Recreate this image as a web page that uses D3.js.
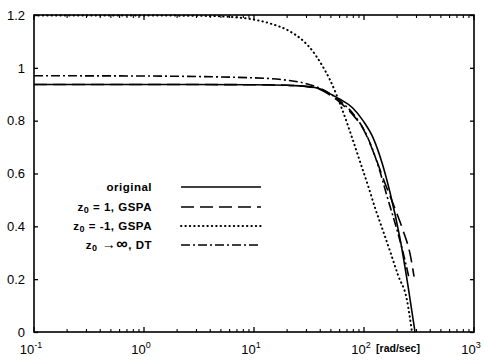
<!DOCTYPE html>
<html>
<head>
<meta charset="utf-8">
<script src="https://cdn.jsdelivr.net/npm/d3@7"></script>
<style>
  body { margin: 0; background: #fff; }
  svg { font-family: "Liberation Sans", Arial, sans-serif; }
</style>
</head>
<body>
<div id="chart"></div>
<script>
// frequency in rad/sec, magnitude
var origW = [0.1, 1, 10, 20, 30, 40, 49, 60, 79, 98, 121, 146, 172, 212, 250, 291];
var origV = [0.937, 0.937, 0.936, 0.934, 0.93, 0.92, 0.902, 0.882, 0.848, 0.8, 0.735, 0.64, 0.53, 0.356, 0.18, 0];

var gspaPW = [0.1, 1, 10, 20, 30, 40, 50, 60, 80, 98, 130, 153, 190, 224, 267, 285];
var gspaPV = [0.937, 0.937, 0.936, 0.934, 0.929, 0.918, 0.895, 0.87, 0.82, 0.77, 0.65, 0.57, 0.47, 0.39, 0.28, 0.21];

var gspaMW = [0.1, 1, 3.2, 6, 9.2, 14, 21.2, 27.9, 34.3, 41.5, 49, 63, 78, 92, 109, 126, 149, 176, 204, 246, 273];
var gspaMV = [1.198, 1.198, 1.197, 1.193, 1.185, 1.168, 1.138, 1.103, 1.062, 1.01, 0.955, 0.845, 0.735, 0.645, 0.553, 0.47, 0.383, 0.295, 0.215, 0.12, 0];

var dtW = [0.1, 1, 10, 20, 30, 40, 50, 60, 80, 100, 120, 139, 163, 200, 230, 255];
var dtV = [0.97, 0.969, 0.962, 0.953, 0.94, 0.922, 0.9, 0.876, 0.825, 0.765, 0.69, 0.61, 0.51, 0.385, 0.29, 0.21];

var yTicks = [0, 0.2, 0.4, 0.6, 0.8, 1, 1.2];
var xDecades = [-1, 0, 1, 2, 3];
var legendNames = ["original", "z0 = 1,  GSPA", "z0 = -1, GSPA", "z0 \u2192 \u221E,  DT"];

var width = 485, height = 361;
var mLeft = 34, mRight = 474, mTop = 15, mBottom = 332;

var svg = d3.select("#chart").append("svg")
    .attr("width", width)
    .attr("height", height);

var x = d3.scaleLog().domain([0.1, 1000]).range([mLeft, mRight]);
var y = d3.scaleLinear().domain([0, 1.2]).range([mBottom, mTop]);

var series = [
    {w: origW, v: origV, dash: null, cap: "butt"},
    {w: gspaPW, v: gspaPV, dash: "13,6", cap: "butt"},
    {w: gspaMW, v: gspaMV, dash: "0.4,4", cap: "round"},
    {w: dtW, v: dtV, dash: "9,3,2,3", cap: "butt"}
];

var line = d3.line()
    .x(function(d) { return x(d[0]); })
    .y(function(d) { return y(d[1]); })
    .curve(d3.curveMonotoneX);

svg.append("defs").append("clipPath").attr("id", "clip")
  .append("rect").attr("x", mLeft).attr("y", mTop - 1)
    .attr("width", mRight - mLeft).attr("height", mBottom - mTop + 1);

var plot = svg.append("g").attr("clip-path", "url(#clip)");
series.forEach(function(s) {
    plot.append("path")
        .datum(s.w.map(function(w, i) { return [w, s.v[i]]; }))
        .attr("d", line)
        .attr("fill", "none")
        .attr("stroke", "#000")
        .attr("stroke-width", s.cap === "round" ? 2 : 1.6)
        .attr("stroke-linecap", s.cap)
        .attr("stroke-dasharray", s.dash);
});

// frame
svg.append("rect")
    .attr("x", mLeft).attr("y", mTop)
    .attr("width", mRight - mLeft).attr("height", mBottom - mTop)
    .attr("fill", "none").attr("stroke", "#000").attr("stroke-width", 1.6);

// y ticks, both sides, inward
var yAxisL = d3.axisLeft(y).tickValues(yTicks).tickSizeInner(-4).tickSizeOuter(0)
    .tickPadding(9).tickFormat(d3.format("~g"));
var gy = svg.append("g").attr("transform", "translate(" + mLeft + ",0)").call(yAxisL);
gy.select(".domain").remove();
gy.selectAll("text").attr("font-size", 13).attr("fill", "#000");
gy.selectAll("line").attr("stroke-width", 1.3);

var gyr = svg.append("g").attr("transform", "translate(" + mRight + ",0)")
    .call(d3.axisRight(y).tickValues(yTicks).tickSizeInner(-4).tickSizeOuter(0).tickFormat(""));
gyr.select(".domain").remove();
gyr.selectAll("line").attr("stroke-width", 1.3);

// x ticks: major and minor log ticks, top and bottom
var minor = [];
xDecades.slice(0, -1).forEach(function(e) {
    for (var k = 2; k <= 9; k++) minor.push(k * Math.pow(10, e));
});
var major = xDecades.map(function(e) { return Math.pow(10, e); });

[[mBottom, -1], [mTop, 1]].forEach(function(p) {
    var g = svg.append("g");
    g.selectAll("line.maj").data(major).enter().append("line")
        .attr("x1", function(d) { return x(d); }).attr("x2", function(d) { return x(d); })
        .attr("y1", p[0]).attr("y2", p[0] + p[1] * 5)
        .attr("stroke", "#000").attr("stroke-width", 1.3);
    g.selectAll("line.min").data(minor).enter().append("line")
        .attr("x1", function(d) { return x(d); }).attr("x2", function(d) { return x(d); })
        .attr("y1", p[0]).attr("y2", p[0] + p[1] * 3)
        .attr("stroke", "#000").attr("stroke-width", 1.1);
});

// x tick labels 10^n
var xl = svg.append("g").selectAll("text").data(xDecades).enter().append("text")
    .attr("x", function(d) { return x(Math.pow(10, d)) - 3; })
    .attr("y", 354)
    .attr("text-anchor", "middle")
    .attr("font-size", 13);
xl.append("tspan").text("10");
xl.append("tspan").attr("dy", -6).attr("font-size", 9).text(function(d) { return d; });

svg.append("text")
    .attr("x", 398).attr("y", 352)
    .attr("text-anchor", "middle")
    .attr("font-size", 10.5).attr("font-weight", "bold")
    .text("[rad/sec]");

// legend
var legY = [187, 207, 226, 245];
var leg = svg.append("g").selectAll("g").data(legendNames).enter().append("g")
    .attr("transform", function(d, i) { return "translate(0," + legY[i] + ")"; });

leg.append("line")
    .attr("x1", 181).attr("x2", 261).attr("y1", 0).attr("y2", 0)
    .attr("stroke", "#000")
    .attr("stroke-linecap", function(d, i) { return series[i].cap; })
    .attr("stroke-width", function(d, i) { return series[i].cap === "round" ? 2 : 1.6; })
    .attr("stroke-dasharray", function(d, i) { return series[i].dash; });

leg.each(function(d, i) {
    var t = d3.select(this).append("text")
        .attr("x", 152).attr("y", 4)
        .attr("text-anchor", "end")
        .attr("letter-spacing", 0.5)
        .attr("font-size", 11.5).attr("font-weight", "bold");
    if (i === 0) {
        t.text(d);
    } else if (i < 3) {
        t.append("tspan").text("z");
        t.append("tspan").attr("font-size", 9).attr("dy", 2).text("0");
        t.append("tspan").attr("dy", -2).text(d.slice(2));
    } else {
        t.append("tspan").text("z");
        t.append("tspan").attr("font-size", 9).attr("dy", 2).text("0");
        t.append("tspan").attr("dy", -2).attr("font-size", 14).text(" \u2192");
        t.append("tspan").attr("font-size", 16).text("\u221E");
        t.append("tspan").text(",  DT");
    }
});
</script>
</body>
</html>
